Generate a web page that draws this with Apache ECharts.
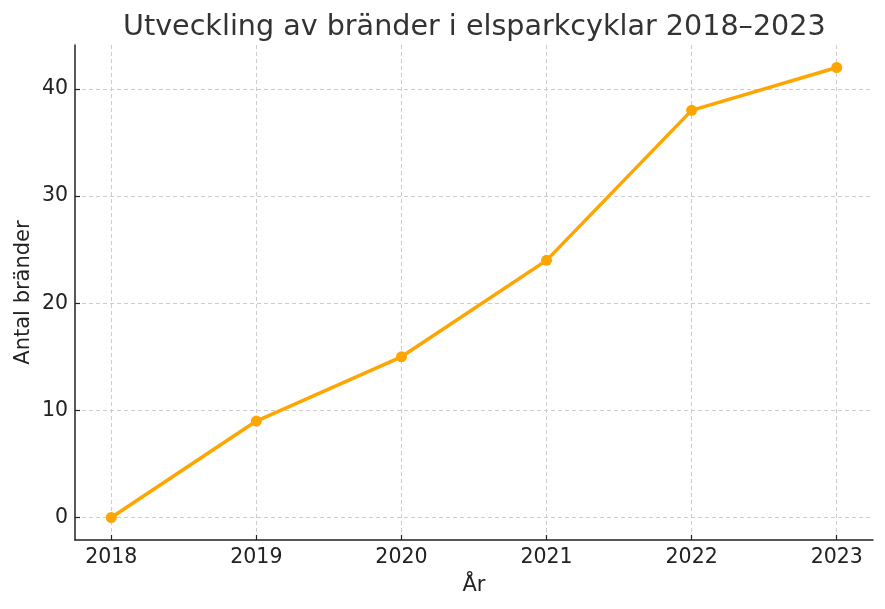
<!DOCTYPE html>
<html>
<head>
<meta charset="utf-8">
<script src="https://cdn.jsdelivr.net/npm/echarts@6/dist/echarts.min.js"></script>
<style>
    html, body { margin: 0; padding: 0; background: #fff; }
    #chart { width: 885px; height: 609px; }
</style>
</head>
<body>
<div id="chart"></div>
<script>
// Chart data
const years = [2018, 2019, 2020, 2021, 2022, 2023];
const fires = [0, 9, 15, 24, 38, 42];
const yTicks = [0, 10, 20, 30, 40];

const FONT = 'DejaVu Sans';
const LINE_COLOR = '#FFA500';

const chart = echarts.init(document.getElementById('chart'));

const gridLine = {
    show: true,
    lineStyle: { color: '#cccccc', width: 1, type: [4, 3] }
};

const option = {
    animation: false,
    title: {
        text: 'Utveckling av bränder i elsparkcyklar 2018–2023',
        left: 118,
        top: 8,
        textStyle: {
            fontFamily: FONT,
            fontSize: 28.6,
            fontWeight: 'normal',
            color: '#333333'
        }
    },
    grid: {
        left: 75,
        right: 12,
        top: 45,
        bottom: 69
    },
    xAxis: {
        type: 'value',
        min: 2017.75,
        max: 2023.25,
        name: 'År',
        nameLocation: 'middle',
        nameGap: 35,
        nameMoveOverlap: false,
        nameTextStyle: { fontFamily: FONT, fontSize: 21, color: '#222' },
        axisLine: { show: true, onZero: false, lineStyle: { color: '#222', width: 1.5 } },
        axisTick: { show: true, inside: true, length: 5, customValues: years, lineStyle: { color: '#222', width: 1.2 } },
        axisLabel: {
            customValues: years,
            margin: 7,
            fontFamily: FONT,
            fontSize: 20.5,
            color: '#222',
            formatter: v => String(v)
        },
        splitLine: gridLine
    },
    yAxis: {
        type: 'value',
        min: -2.1,
        max: 44.1,
        name: 'Antal bränder',
        nameLocation: 'middle',
        nameGap: 41,
        nameMoveOverlap: false,
        nameTextStyle: { fontFamily: FONT, fontSize: 21, color: '#222' },
        axisLine: { show: true, onZero: false, lineStyle: { color: '#222', width: 1.5 } },
        axisTick: { show: true, inside: true, length: 5, customValues: yTicks, lineStyle: { color: '#222', width: 1.2 } },
        axisLabel: {
            customValues: yTicks,
            margin: 7,
            fontFamily: FONT,
            fontSize: 20.5,
            color: '#222'
        },
        splitLine: gridLine
    },
    series: [
        {
            name: 'Antal bränder',
            type: 'line',
            data: years.map((y, i) => [y, fires[i]]),
            symbol: 'circle',
            symbolSize: 11,
            lineStyle: { color: LINE_COLOR, width: 3.5 },
            itemStyle: { color: LINE_COLOR }
        }
    ]
};

chart.setOption(option);
</script>
</body>
</html>
